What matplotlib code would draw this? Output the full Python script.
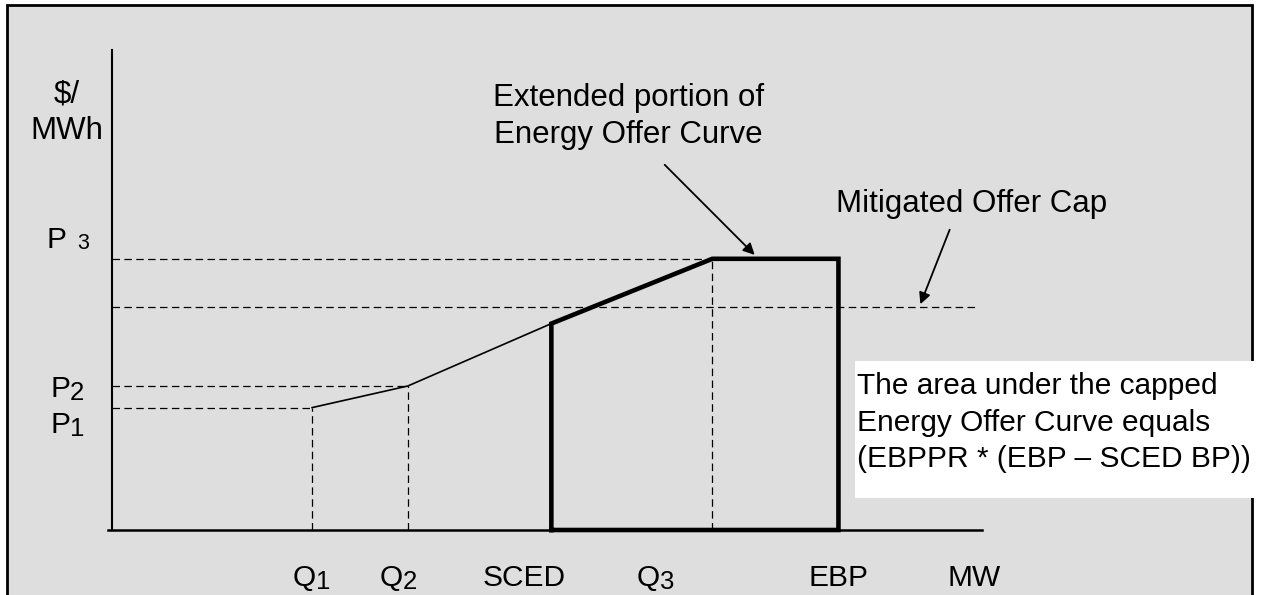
import matplotlib
matplotlib.use("Agg")
import matplotlib.pyplot as plt
from matplotlib.patches import Rectangle

plt.rcParams['font.family'] = ['Liberation Sans', 'DejaVu Sans']

# MW break points (arbitrary units on the MW axis)
q1, q2, sced, q3, ebp = 23, 34, 50.5, 69, 83.5
# $/MWh prices
p1, p2, p_sced, p3, cap = 25.5, 30, 43, 56.5, 46.5

offer_mw = [q1, q2, sced]
offer_price = [p1, p2, p_sced]
ext_mw = [sced, sced, q3, ebp, ebp, sced]
ext_price = [0, p_sced, p3, p3, 0, 0]

x_labels = [("Q", "1"), ("Q", "2"), ("SCED", ""), ("Q", "3"), ("EBP", ""), ("MW", "")]
x_label_pos = [20.8, 30.8, 42.6, 60.3, 80.0, 96.0]   # left edge of each label
y_labels = [("P", "1"), ("P", "2")]
y_label_pos = [20.2, 27.7]

W, H = 1288, 595
fig = plt.figure(figsize=(W / 100, H / 100), dpi=100)
fig.patch.set_facecolor('white')

# grey panel with black frame
fig.patches.append(Rectangle((7 / W, -0.05), (1252 - 7) / W, (H - 5) / H + 0.05,
                             transform=fig.transFigure, facecolor='#dedede',
                             edgecolor='black', lw=2, zorder=-1))

ax = fig.add_axes([112 / W, 65 / H, 870 / W, 480 / H])
ax.set_xlim(0, 100)
ax.set_ylim(0, 100)
ax.axis('off')

FS = 21.5      # axis labels, note box
FS_BIG = 22.5  # free-standing captions
dash = dict(color='black', lw=0.9, ls=(0, (6, 3.5)))

# axes
ax.plot([0, 0], [0, 100], color='black', lw=1.5, clip_on=False)
ax.plot([-0.5, 100], [0, 0], color='black', lw=1.8, clip_on=False)

# dashed guide lines
for q, p in [(q1, p1), (q2, p2), (q3, p3)]:
    ax.plot([0, q], [p, p], **dash)
    ax.plot([q, q], [0, p], **dash)
ax.plot([0, 99.2], [cap, cap], **dash)

# offer curve
ax.plot(offer_mw, offer_price, color='black', lw=1.2)
ax.plot(ext_mw, ext_price, color='black', lw=3.3, solid_joinstyle='miter', clip_on=False)

# axis labels
ax.text(-5.2, 81.5, "$/\nMWh", fontsize=FS_BIG, ha='center', va='baseline', linespacing=1.26)


def sub_label(x, y, main, sub, sub_size=18.5, gap=0, drop=-2):
    t = ax.text(x, y, main, fontsize=FS, ha='left', va='baseline')
    if sub:
        ax.annotate(sub, xy=(1, 0), xycoords=t, xytext=(gap, drop),
                    textcoords='offset pixels', fontsize=sub_size,
                    ha='left', va='bottom')


for (m, s), xp in zip(x_labels, x_label_pos):
    sub_label(xp, -11.7, m, s)
for (m, s), yp in zip(y_labels, y_label_pos):
    sub_label(-7.1, yp, m, s)
sub_label(-7.5, 58.75, "P", "3", sub_size=15.5, gap=10, drop=0)

# annotations
ax.text(59.4, 80.6, "Extended portion of\nEnergy Offer Curve", fontsize=FS_BIG,
        ha='center', va='baseline', linespacing=1.31)
ax.annotate("", xy=(74.1, p3 + 0.4), xytext=(63.3, 76.5),
            arrowprops=dict(arrowstyle='-|>', color='black', lw=1.3, mutation_scale=17))
ax.text(83.2, 66.25, "Mitigated Offer Cap", fontsize=FS_BIG, ha='left', va='baseline')
ax.annotate("", xy=(92.8, cap), xytext=(96.4, 63.1),
            arrowprops=dict(arrowstyle='-|>', color='black', lw=1.3, mutation_scale=17))

# white note box (covers the frame on the right)
ax.add_patch(Rectangle((855 / W, (H - 498) / H), (1255 - 855) / W, (498 - 361) / H,
                       transform=fig.transFigure, facecolor='white',
                       edgecolor='none', clip_on=False, zorder=5))
ax.text(85.6, 13.1, "The area under the capped\nEnergy Offer Curve equals\n(EBPPR * (EBP \u2013 SCED BP))",
        fontsize=FS, ha='left', va='baseline', linespacing=1.38, zorder=6)

fig.savefig("out.png", dpi=100)
